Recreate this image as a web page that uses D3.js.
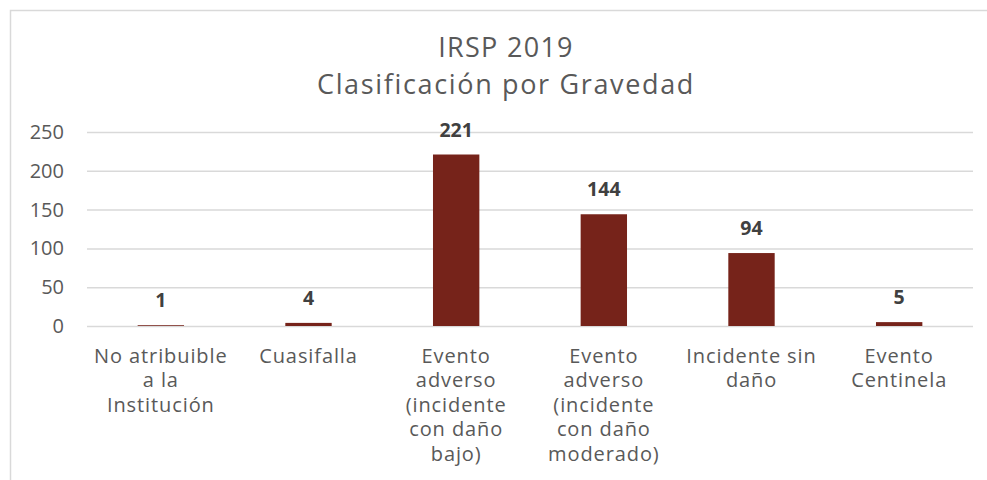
<!DOCTYPE html>
<html>
<head>
<meta charset="utf-8">
<script src="https://cdn.jsdelivr.net/npm/d3@7"></script>
<style>
  body { margin: 0; background: #fff; }
  svg text { fill: #595959; }
</style>
</head>
<body>
<div id="container"></div>
<script>

var categories = [
    ["No atribuible", "a la", "Institución"],
    ["Cuasifalla"],
    ["Evento", "adverso", "(incidente", "con daño", "bajo)"],
    ["Evento", "adverso", "(incidente", "con daño", "moderado)"],
    ["Incidente sin", "daño"],
    ["Evento", "Centinela"]
];

var values = [1, 4, 221, 144, 94, 5];

var yTicks = [0, 50, 100, 150, 200, 250];

var titleLines = ["IRSP 2019", "Clasificación por Gravedad"];

var W = 987, H = 480;
var margin = {top: 132, right: 14, bottom: 154, left: 87};
var width = W - margin.left - margin.right;
var height = H - margin.top - margin.bottom;   // 0 -> y = 326

var barColor = "#76231A";
var labelFont = "'Open Sans', sans-serif";

var svg = d3.select("#container")
    .append("svg")
    .attr("width", W)
    .attr("height", H);

//  chart border
svg.append("rect")
    .attr("x", 10.5)
    .attr("y", 10.5)
    .attr("width", W)
    .attr("height", H)
    .attr("fill", "none")
    .attr("stroke", "#d9d9d9")
    .attr("stroke-width", 1.5);

svg.selectAll(".title")
    .data(titleLines)
    .enter()
    .append("text")
    .attr("class", "title")
    .attr("x", 506)
    .attr("y", function(d, i) { return 57 + i * 37; })
    .attr("text-anchor", "middle")
    .style("font-family", labelFont)
    .style("font-size", "27px")
    .style("letter-spacing", function(d, i) { return i ? "1.65px" : "1.3px"; })
    .text(function(d) { return d; });

var g = svg.append("g")
    .attr("transform", "translate(" + margin.left + "," + margin.top + ")");

var x = d3.scaleBand()
    .domain(d3.range(categories.length))
    .range([0, width])
    .paddingInner(0.686)
    .paddingOuter(0.343);

var y = d3.scaleLinear()
    .domain([0, 250])
    .range([height, 0]);

//  gridlines
g.append("g")
    .attr("class", "grid")
    .call(d3.axisLeft(y).tickValues(yTicks).tickSize(-width).tickFormat(""))
    .call(function(s) {
        s.select(".domain").remove();
        s.selectAll("line").attr("stroke", "#d9d9d9").attr("stroke-width", 1.5);
    });

//  y axis labels
g.append("g")
    .attr("class", "axis-left")
    .call(d3.axisLeft(y).tickValues(yTicks).tickSize(0).tickPadding(23))
    .call(function(s) {
        s.select(".domain").remove();
        s.selectAll("text")
            .style("font-family", labelFont)
            .style("font-size", "20px")
            .attr("fill", "#595959");
    });

g.selectAll(".bar")
    .data(values)
    .enter()
    .append("rect")
    .attr("class", "bar")
    .attr("x", function(d, i) { return x(i); })
    .attr("y", function(d) { return y(d); })
    .attr("width", x.bandwidth())
    .attr("height", function(d) { return height - y(d); })
    .attr("fill", barColor);

g.selectAll(".value")
    .data(values)
    .enter()
    .append("text")
    .attr("class", "value")
    .attr("x", function(d, i) { return x(i) + x.bandwidth() / 2; })
    .attr("y", function(d) { return y(d) - 18; })
    .attr("text-anchor", "middle")
    .style("font-family", labelFont)
    .style("font-weight", "bold")
    .style("font-size", "19.5px")
    .style("fill", "#404040")
    .text(function(d) { return d; });

//  category labels, one line per tspan
var cat = g.selectAll(".cat")
    .data(categories)
    .enter()
    .append("text")
    .attr("class", "cat")
    .attr("text-anchor", "middle")
    .attr("transform", function(d, i) {
        return "translate(" + (x(i) + x.bandwidth() / 2) + "," + (height + 37) + ")";
    })
    .style("font-family", labelFont)
    .style("font-size", "20px")
    .style("letter-spacing", "0.9px");

cat.selectAll("tspan")
    .data(function(d) { return d; })
    .enter()
    .append("tspan")
    .attr("x", 0)
    .attr("y", function(d, i) { return i * 24.4; })
    .text(function(d) { return d; });

</script>
</body>
</html>
